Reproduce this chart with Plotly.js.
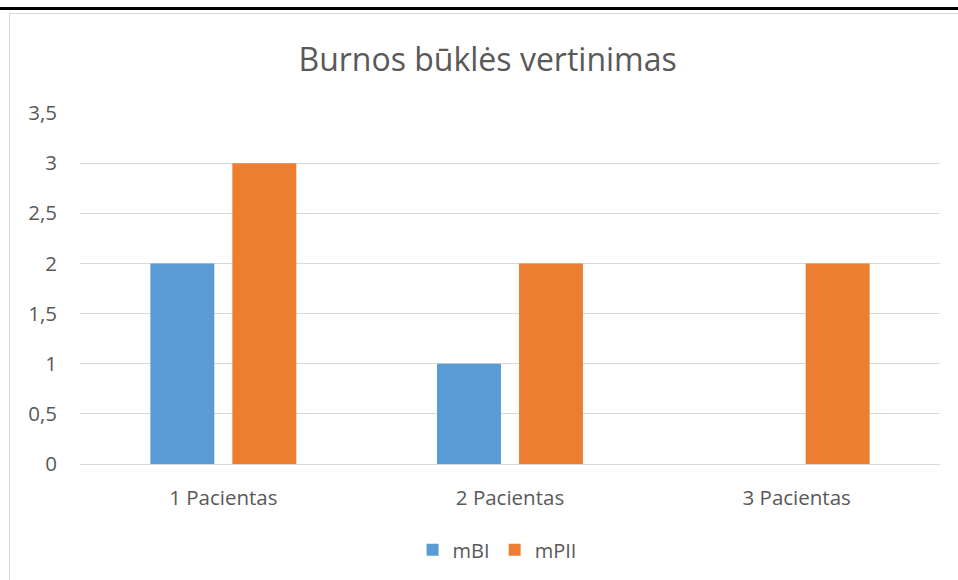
<!DOCTYPE html>
<html>
<head>
<meta charset="utf-8">
<script src="https://cdn.plot.ly/plotly-3.0.1.min.js"></script>
<style>
html,body{margin:0;padding:0;background:#fff;}
#wrap{position:relative;width:958px;height:580px;overflow:hidden;}
#chart{position:absolute;left:0;top:0;width:958px;height:580px;}
#blackline{position:absolute;left:0;top:7px;width:958px;height:3px;background:#000;pointer-events:none;}
#frame{position:absolute;left:9px;top:13px;width:960px;height:600px;border-left:1px solid #d9d9d9;border-top:1px solid #d9d9d9;pointer-events:none;}
</style>
</head>
<body>
<div id="wrap">
<div id="chart"></div>
<div id="frame"></div>
<div id="blackline"></div>
</div>
<script>
var categories = ["1 Pacientas", "2 Pacientas", "3 Pacientas"];
var mBI = [2, 1, 0];
var mPII = [3, 2, 2];
var seriesNames = ["mBI", "mPII"];
var yTicks = [0, 0.5, 1, 1.5, 2, 2.5, 3, 3.5];

var fontFam = "'Open Sans', 'Noto Sans', sans-serif";
var traces = [
  {type: "bar", name: seriesNames[0], x: categories, y: mBI, marker: {color: "#5B9BD5"}, hoverinfo: "x+y"},
  {type: "bar", name: seriesNames[1], x: categories, y: mPII, marker: {color: "#ED7D31"}, hoverinfo: "x+y"}
];
var layout = {
  width: 958, height: 580,
  margin: {l: 80, r: 18, t: 113, b: 115},
  paper_bgcolor: "rgba(0,0,0,0)",
  plot_bgcolor: "rgba(0,0,0,0)",
  separators: ", ",
  barmode: "group",
  bargap: 0.428,
  bargroupgap: 0.22,
  font: {family: fontFam, color: "#595959", size: 20},
  title: {text: "Burnos būklės vertinimas", font: {family: fontFam, size: 32, color: "#595959"}, x: 0.509, xanchor: "center", xref: "container", y: 0.897, yanchor: "middle", yref: "container"},
  xaxis: {showgrid: false, showline: true, linecolor: "#d9d9d9", linewidth: 1, ticks: "", ticklabelstandoff: 15, tickfont: {family: fontFam, size: 20.5, color: "#595959"}, fixedrange: true},
  yaxis: {range: [0, 3.5], tickvals: yTicks, showgrid: true, gridcolor: "#d9d9d9", gridwidth: 1, zeroline: true, zerolinecolor: "#d9d9d9", showline: false, ticks: "", ticklabelstandoff: 22, tickfont: {family: fontFam, size: 20.5, color: "#595959"}, fixedrange: true},
  showlegend: true,
  legend: {orientation: "h", x: 0.485, xanchor: "center", y: -0.241, yanchor: "middle", font: {family: fontFam, size: 20, color: "#595959"}, itemwidth: 30, tracegroupgap: 0}
};
Plotly.newPlot("chart", traces, layout, {displayModeBar: false, staticPlot: true});
</script>
</body>
</html>
